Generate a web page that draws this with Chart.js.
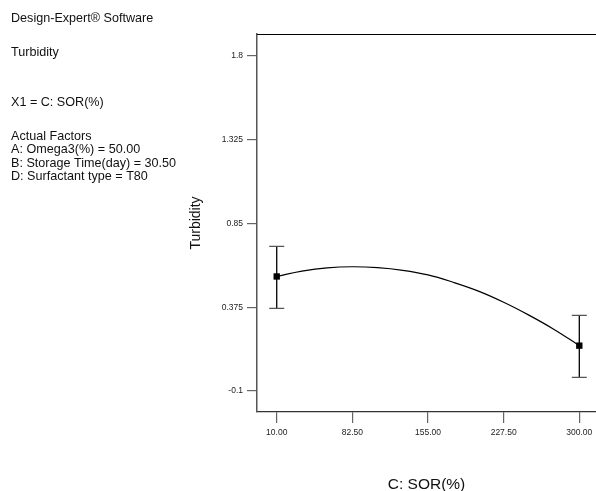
<!DOCTYPE html>
<html>
<head>
<meta charset="utf-8">
<script src="https://cdn.jsdelivr.net/npm/chart.js@4/dist/chart.umd.min.js"></script>
<style>
  html, body { margin: 0; padding: 0; background: #fff; overflow: hidden; }
  #wrap { width: 596px; height: 491px; }
</style>
</head>
<body>
<div id="wrap"><canvas id="myChart" width="596" height="491"></canvas></div>
<script>
// design points (actual runs) with their error bar limits
const designX = [10, 300];
const designY = [0.549, 0.157];
const errHigh = [0.719, 0.328];
const errLow = [0.368, -0.023];

// predicted response curve
const curveX = [10, 34.17, 58.33, 82.5, 106.67, 130.83, 155, 179.17, 203.33, 227.5, 251.67, 275.83, 300];
const curveY = [0.549, 0.579, 0.598, 0.604, 0.599, 0.584, 0.558, 0.516, 0.466, 0.403, 0.330, 0.249, 0.157];

// axis ticks
const xTicks = [10, 82.5, 155, 227.5, 300];
const xTickLabels = ['10.00', '82.50', '155.00', '227.50', '300.00'];
const yTicks = [-0.1, 0.375, 0.85, 1.325, 1.8];
const yTickLabels = ['-0.1', '0.375', '0.85', '1.325', '1.8'];

// side notes
const infoLines = [
  ['Design-Expert® Software', 21.5],
  ['Turbidity', 55.5],
  ['X1 = C: SOR(%)', 105.5],
  ['Actual Factors', 139.5],
  ['A: Omega3(%) = 50.00', 153],
  ['B: Storage Time(day) = 30.50', 166.5],
  ['D: Surfactant type = T80', 180]
];

const FONT = '"Liberation Sans", Arial, sans-serif';

const errorBars = {
  id: 'errorBars',
  beforeDatasetsDraw(chart) {
    const { ctx, scales: { x, y } } = chart;
    ctx.save();
    for (let i = 0; i < designX.length; i++) {
      const px = x.getPixelForValue(designX[i]);
      const top = y.getPixelForValue(errHigh[i]);
      const bot = y.getPixelForValue(errLow[i]);
      ctx.strokeStyle = '#000';
      ctx.lineWidth = 1.3;
      ctx.beginPath();
      ctx.moveTo(px, top);
      ctx.lineTo(px, bot);
      ctx.stroke();
      ctx.strokeStyle = '#555';
      ctx.beginPath();
      ctx.moveTo(px - 7.5, top);
      ctx.lineTo(px + 7.5, top);
      ctx.moveTo(px - 7.5, bot);
      ctx.lineTo(px + 7.5, bot);
      ctx.stroke();
    }
    ctx.restore();
  }
};

const decor = {
  id: 'decor',
  afterDraw(chart) {
    const { ctx, chartArea } = chart;
    ctx.save();
    // top frame line
    ctx.strokeStyle = '#000';
    ctx.lineWidth = 1;
    ctx.beginPath();
    ctx.moveTo(chartArea.left, chartArea.top + 0.5);
    ctx.lineTo(chart.width, chartArea.top + 0.5);
    ctx.stroke();
    // notes on the left
    ctx.fillStyle = '#111';
    ctx.font = '12.6px ' + FONT;
    ctx.textBaseline = 'alphabetic';
    ctx.textAlign = 'left';
    infoLines.forEach(([t, yy]) => ctx.fillText(t, 11, yy));
    ctx.restore();
  }
};

const ctx = document.getElementById('myChart').getContext('2d');
new Chart(ctx, {
  type: 'scatter',
  data: {
    datasets: [{
      label: 'Prediction',
      data: curveX.map((v, i) => ({ x: v, y: curveY[i] })),
      showLine: true,
      borderColor: '#000',
      borderWidth: 1.2,
      pointRadius: 0,
      tension: 0.4,
      fill: false
    }, {
      label: 'Design points',
      data: designX.map((v, i) => ({ x: v, y: designY[i] })),
      showLine: false,
      pointStyle: 'rect',
      pointRadius: 4.5,
      backgroundColor: '#000',
      borderColor: '#000',
      borderWidth: 0
    }]
  },
  options: {
    responsive: false,
    animation: false,
    layout: { autoPadding: false, padding: { left: 187.6, top: 34, right: 0, bottom: 0 } },
    plugins: {
      legend: { display: false },
      tooltip: { enabled: false }
    },
    scales: {
      x: {
        type: 'linear',
        min: -8.9,
        max: 316,
        afterBuildTicks: (s) => { s.ticks = xTicks.map(v => ({ value: v })); },
        afterFit: (s) => { s.height = 79; s.paddingRight = 0; s.paddingLeft = 0; },
        ticks: {
          callback: (v) => xTickLabels[xTicks.indexOf(v)],
          font: { family: FONT, size: 8.5 },
          color: '#222',
          padding: 5,
          maxRotation: 0,
          autoSkip: false
        },
        grid: { drawOnChartArea: false, drawTicks: true, tickLength: 11, color: '#666', lineWidth: 1.2 },
        border: { display: true, color: '#333', width: 1.3 },
        title: {
          display: true,
          text: 'C: SOR(%)',
          font: { family: FONT, size: 15.5 },
          color: '#111',
          padding: { top: 0, bottom: -3 }
        }
      },
      y: {
        type: 'linear',
        min: -0.219,
        max: 1.923,
        afterBuildTicks: (s) => { s.ticks = yTicks.map(v => ({ value: v })); },
        afterFit: (s) => { s.width = 69.4; },
        ticks: {
          callback: (v) => yTickLabels[yTicks.indexOf(v)],
          font: { family: FONT, size: 8.5 },
          color: '#222',
          padding: 4,
          autoSkip: false
        },
        grid: { drawOnChartArea: false, drawTicks: true, tickLength: 10, color: '#666', lineWidth: 1.2 },
        border: { display: true, color: '#555', width: 1.5 },
        title: {
          display: true,
          text: 'Turbidity',
          font: { family: FONT, size: 14 },
          color: '#111',
          padding: { top: 0, bottom: 0 }
        }
      }
    }
  },
  plugins: [errorBars, decor]
});
</script>
</body>
</html>
